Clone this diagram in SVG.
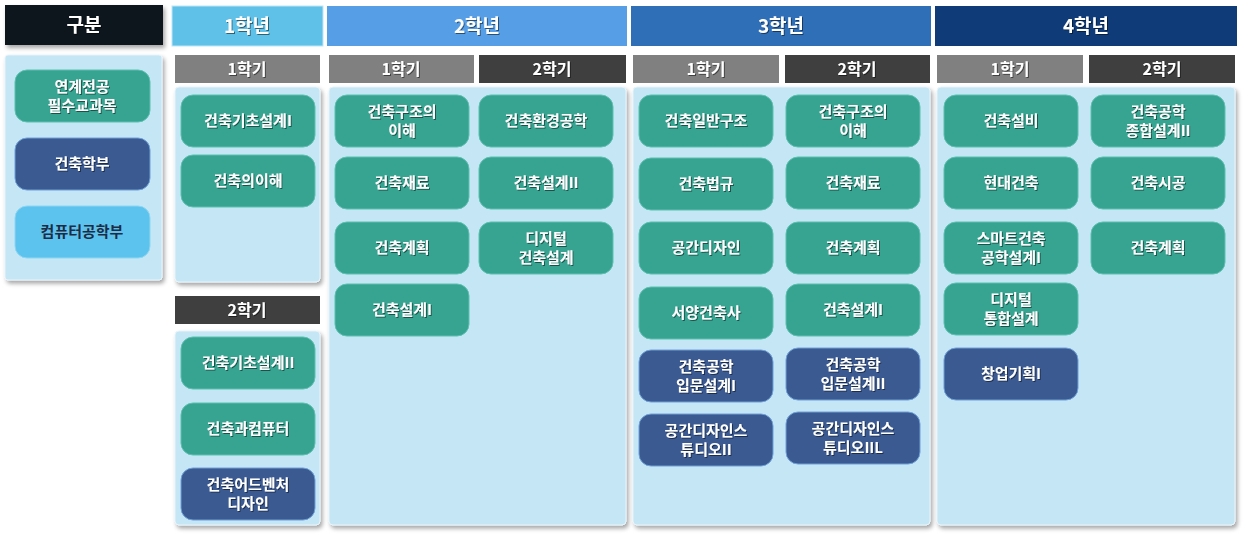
<svg xmlns="http://www.w3.org/2000/svg" width="1250" height="541" viewBox="0 0 1250 541">
<defs>
<filter id="sh" x="-10%" y="-10%" width="130%" height="130%"><feDropShadow dx="2" dy="3" stdDeviation="2" flood-color="#000" flood-opacity="0.35"/></filter>
<filter id="ts" x="-10%" y="-20%" width="120%" height="150%"><feDropShadow dx="1" dy="1" stdDeviation="0.6" flood-color="#000" flood-opacity="0.5"/></filter>
</defs>
<style>
text{font-family:"Noto Sans CJK KR","Noto Sans",sans-serif;font-weight:bold;text-anchor:middle;}
.yh{font-size:19px;fill:#fff;filter:url(#ts)}
.sh{font-size:16px;fill:#fff;filter:url(#ts)}
.n{font-size:15px;fill:#fff;filter:url(#ts)}
.panel{fill:#c5e6f5;stroke:#e8f4fa;stroke-width:1;filter:url(#sh)}
.t{fill:#37a391;stroke:#5cc0b0;stroke-width:1}
.v{fill:#3b5a92;stroke:#6fa0d8;stroke-width:1}
.c{fill:#5cc3ee;stroke:#8fd6f2;stroke-width:1}
.g1{fill:#808080}
.g2{fill:#3f3f3f}
</style>
<g id="headers">
<rect x="5" y="5" width="158" height="40" fill="#07121f" filter="url(#sh)"/><text class="yh" x="84" y="32">구분</text>
<rect x="172" y="6" width="151" height="40" fill="#5fc0e8" stroke="#bfe6f6"/><text class="yh" x="247" y="33">1학년</text>
<rect x="327" y="6" width="300" height="40" fill="#569fe6"/><text class="yh" x="477" y="33">2학년</text>
<rect x="631" y="6" width="300" height="40" fill="#2f6fb8"/><text class="yh" x="781" y="33">3학년</text>
<rect x="935" y="6" width="302" height="40" fill="#0f3c78"/><text class="yh" x="1086" y="33">4학년</text>
</g>
<g id="semesters">
<rect class="g1" x="175" y="55" width="145" height="28"/><text class="sh" x="247" y="75">1학기</text>
<rect class="g1" x="329" y="55" width="145" height="28"/><text class="sh" x="401" y="75">1학기</text>
<rect class="g2" x="479" y="55" width="147" height="28"/><text class="sh" x="552" y="75">2학기</text>
<rect class="g1" x="633" y="55" width="146" height="28"/><text class="sh" x="706" y="75">1학기</text>
<rect class="g2" x="785" y="55" width="145" height="28"/><text class="sh" x="857" y="75">2학기</text>
<rect class="g1" x="937" y="55" width="146" height="28"/><text class="sh" x="1010" y="75">1학기</text>
<rect class="g2" x="1089" y="55" width="146" height="28"/><text class="sh" x="1162" y="75">2학기</text>
<rect class="g2" x="175" y="296" width="145" height="28"/><text class="sh" x="247" y="316">2학기</text>
</g>
<g id="panels">
<rect class="panel" x="5" y="55" width="157" height="225" rx="3"/>
<rect class="panel" x="175" y="87" width="145" height="195" rx="4"/>
<rect class="panel" x="175" y="331" width="145" height="194" rx="4"/>
<rect class="panel" x="329" y="87" width="297" height="438" rx="4"/>
<rect class="panel" x="633" y="87" width="297" height="438" rx="4"/>
<rect class="panel" x="937" y="87" width="298" height="438" rx="4"/>
</g>
<g id="legend">
<g id="n-l1"><rect class="t" x="15" y="70" width="135" height="52" rx="12"/><text class="n" x="82" y="92">연계전공</text><text class="n" x="82" y="111">필수교과목</text></g>
<g id="n-l2"><rect class="v" x="15" y="138" width="135" height="52" rx="12"/><text class="n" x="82" y="169">건축학부</text></g>
<g id="n-l3"><rect class="c" x="15" y="206" width="135" height="52" rx="12"/><text class="n" x="82" y="237" style="fill:#1d2c44;filter:none">컴퓨터공학부</text></g>
</g>
<g id="y1">
<g id="n-y1a"><rect class="t" x="181" y="95" width="134" height="52" rx="12"/><text class="n" x="248" y="126">건축기초설계I</text></g>
<g id="n-y1b"><rect class="t" x="181" y="155" width="134" height="52" rx="12"/><text class="n" x="248" y="186">건축의이해</text></g>
<g id="n-y1c"><rect class="t" x="181" y="337" width="134" height="52" rx="12"/><text class="n" x="248" y="368">건축기초설계II</text></g>
<g id="n-y1d"><rect class="t" x="181" y="403" width="134" height="52" rx="12"/><text class="n" x="248" y="434">건축과컴퓨터</text></g>
<g id="n-y1e"><rect class="v" x="181" y="468" width="134" height="52" rx="12"/><text class="n" x="248" y="490">건축어드벤처</text><text class="n" x="248" y="509">디자인</text></g>
</g>
<g id="y2">
<g id="n-y2a"><rect class="t" x="335" y="95" width="134" height="52" rx="12"/><text class="n" x="402" y="117">건축구조의</text><text class="n" x="402" y="136">이해</text></g>
<g id="n-y2b"><rect class="t" x="335" y="157" width="134" height="52" rx="12"/><text class="n" x="402" y="188">건축재료</text></g>
<g id="n-y2c"><rect class="t" x="335" y="222" width="134" height="52" rx="12"/><text class="n" x="402" y="253">건축계획</text></g>
<g id="n-y2d"><rect class="t" x="335" y="284" width="134" height="52" rx="12"/><text class="n" x="402" y="315">건축설계I</text></g>
<g id="n-y2e"><rect class="t" x="479" y="95" width="134" height="52" rx="12"/><text class="n" x="546" y="126">건축환경공학</text></g>
<g id="n-y2f"><rect class="t" x="479" y="157" width="134" height="52" rx="12"/><text class="n" x="546" y="188">건축설계II</text></g>
<g id="n-y2g"><rect class="t" x="479" y="222" width="134" height="52" rx="12"/><text class="n" x="546" y="244">디지털</text><text class="n" x="546" y="263">건축설계</text></g>
</g>
<g id="y3">
<g id="n-y3a"><rect class="t" x="639" y="95" width="134" height="52" rx="12"/><text class="n" x="706" y="126">건축일반구조</text></g>
<g id="n-y3b"><rect class="t" x="639" y="158" width="134" height="52" rx="12"/><text class="n" x="706" y="189">건축법규</text></g>
<g id="n-y3c"><rect class="t" x="639" y="222" width="134" height="52" rx="12"/><text class="n" x="706" y="253">공간디자인</text></g>
<g id="n-y3d"><rect class="t" x="639" y="287" width="134" height="52" rx="12"/><text class="n" x="706" y="318">서양건축사</text></g>
<g id="n-y3e"><rect class="v" x="639" y="350" width="134" height="52" rx="12"/><text class="n" x="706" y="372">건축공학</text><text class="n" x="706" y="391">입문설계I</text></g>
<g id="n-y3f"><rect class="v" x="639" y="414" width="134" height="52" rx="12"/><text class="n" x="706" y="436">공간디자인스</text><text class="n" x="706" y="455">튜디오II</text></g>
<g id="n-y3g"><rect class="t" x="786" y="95" width="134" height="52" rx="12"/><text class="n" x="853" y="117">건축구조의</text><text class="n" x="853" y="136">이해</text></g>
<g id="n-y3h"><rect class="t" x="786" y="157" width="134" height="52" rx="12"/><text class="n" x="853" y="188">건축재료</text></g>
<g id="n-y3i"><rect class="t" x="786" y="222" width="134" height="52" rx="12"/><text class="n" x="853" y="253">건축계획</text></g>
<g id="n-y3j"><rect class="t" x="786" y="284" width="134" height="52" rx="12"/><text class="n" x="853" y="315">건축설계I</text></g>
<g id="n-y3k"><rect class="v" x="786" y="348" width="134" height="52" rx="12"/><text class="n" x="853" y="370">건축공학</text><text class="n" x="853" y="389">입문설계II</text></g>
<g id="n-y3l"><rect class="v" x="786" y="412" width="134" height="52" rx="12"/><text class="n" x="853" y="434">공간디자인스</text><text class="n" x="853" y="453">튜디오IIL</text></g>
</g>
<g id="y4">
<g id="n-y4a"><rect class="t" x="944" y="95" width="134" height="52" rx="12"/><text class="n" x="1011" y="126">건축설비</text></g>
<g id="n-y4b"><rect class="t" x="944" y="157" width="134" height="52" rx="12"/><text class="n" x="1011" y="188">현대건축</text></g>
<g id="n-y4c"><rect class="t" x="944" y="222" width="134" height="52" rx="12"/><text class="n" x="1011" y="244">스마트건축</text><text class="n" x="1011" y="263">공학설계I</text></g>
<g id="n-y4d"><rect class="t" x="944" y="283" width="134" height="52" rx="12"/><text class="n" x="1011" y="305">디지털</text><text class="n" x="1011" y="324">통합설계</text></g>
<g id="n-y4e"><rect class="v" x="944" y="348" width="134" height="52" rx="12"/><text class="n" x="1011" y="379">창업기획I</text></g>
<g id="n-y4f"><rect class="t" x="1091" y="95" width="134" height="52" rx="12"/><text class="n" x="1158" y="117">건축공학</text><text class="n" x="1158" y="136">종합설계II</text></g>
<g id="n-y4g"><rect class="t" x="1091" y="157" width="134" height="52" rx="12"/><text class="n" x="1158" y="188">건축시공</text></g>
<g id="n-y4h"><rect class="t" x="1091" y="222" width="134" height="52" rx="12"/><text class="n" x="1158" y="253">건축계획</text></g>
</g>
<g id="connectors"/>
</svg>
